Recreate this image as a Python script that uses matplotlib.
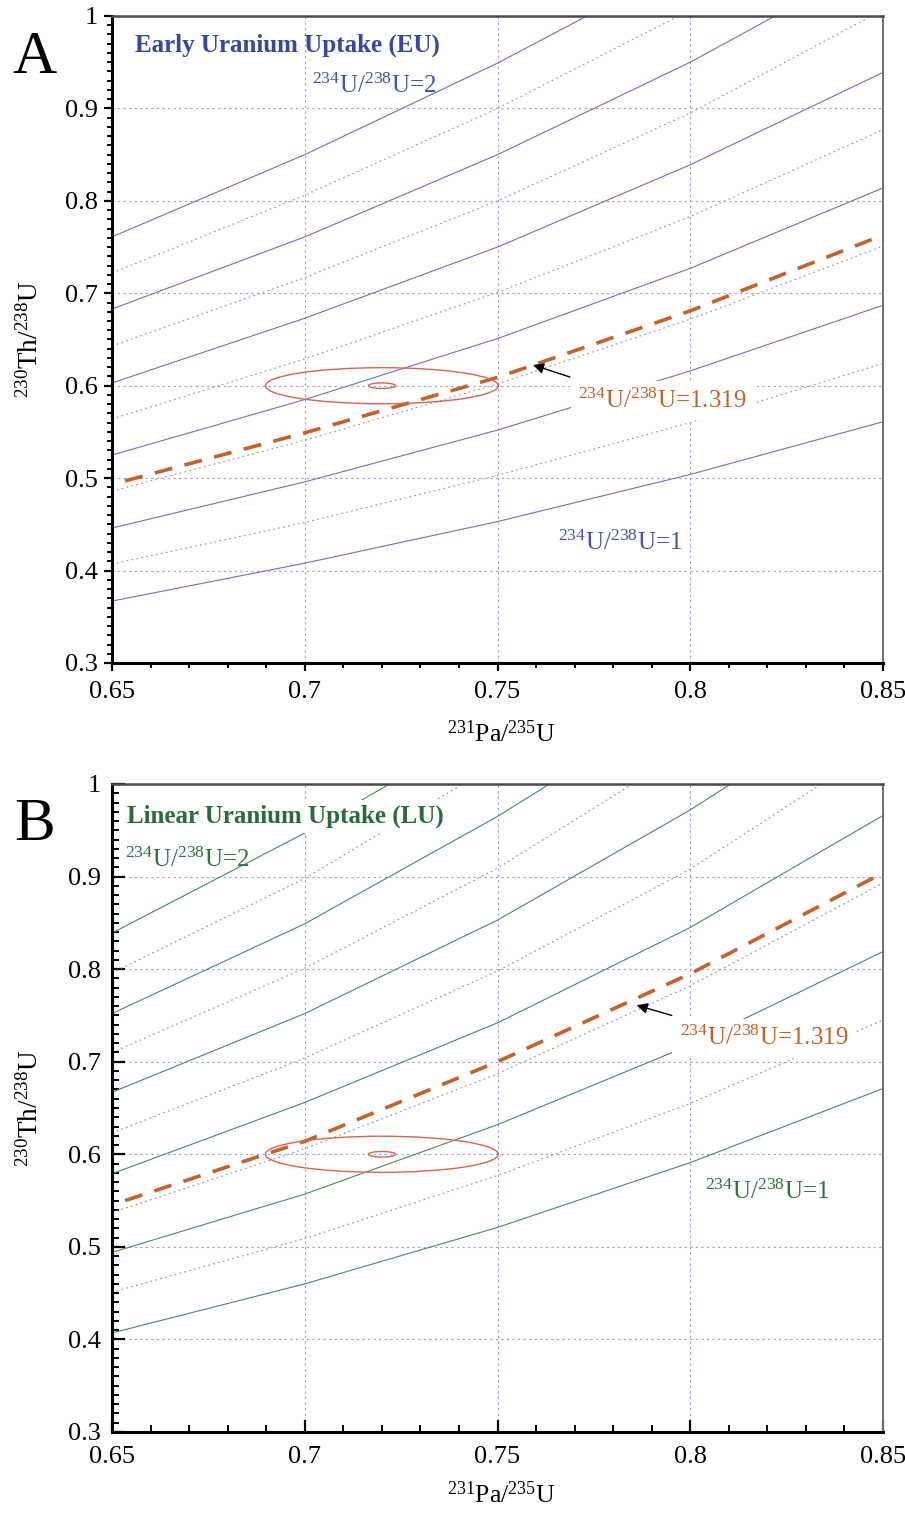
import matplotlib
matplotlib.use('Agg')
import matplotlib.pyplot as plt
from matplotlib.patches import Ellipse
from matplotlib.ticker import FixedLocator, MultipleLocator, FuncFormatter

plt.rcParams['font.family'] = ['Liberation Serif', 'DejaVu Serif']
plt.rcParams['mathtext.fontset'] = 'custom'
plt.rcParams['mathtext.rm'] = 'Liberation Serif'
plt.rcParams['mathtext.it'] = 'Liberation Serif:italic'
plt.rcParams['mathtext.bf'] = 'Liberation Serif:bold'

# values (231Pa/235U on x, 230Th/238U on y)
x_grid = [0.65, 0.70, 0.75, 0.80, 0.85]

# A: early uranium uptake, solid 234U/238U = 2.0 ... 1.0
eu_solid_x = [[0.65, 0.70, 0.75, 0.7732],
              [0.65, 0.70, 0.75, 0.80, 0.822],
              x_grid, x_grid, x_grid, x_grid]
eu_solid_y = [[0.761, 0.850, 0.949, 1.0],
              [0.683, 0.761, 0.850, 0.950, 1.0],
              [0.603, 0.673, 0.750, 0.839, 0.939],
              [0.525, 0.585, 0.651, 0.727, 0.814],
              [0.446, 0.496, 0.552, 0.616, 0.687],
              [0.367, 0.408, 0.453, 0.504, 0.561]]
# dotted 234U/238U = 1.9 ... 1.1
eu_dot_x = [[0.65, 0.70, 0.75, 0.797],
            [0.65, 0.70, 0.75, 0.80, 0.847],
            x_grid, x_grid, x_grid]
eu_dot_y = [[0.722, 0.806, 0.900, 1.0],
            [0.643, 0.717, 0.800, 0.895, 1.0],
            [0.564, 0.629, 0.701, 0.783, 0.877],
            [0.486, 0.541, 0.602, 0.672, 0.751],
            [0.407, 0.452, 0.503, 0.560, 0.624]]
# 234U/238U = 1.319
eu_dash_x = [0.6534, 0.70, 0.75, 0.80, 0.85]
eu_dash_y = [0.497, 0.549, 0.609, 0.681, 0.763]

# B: linear uranium uptake
lu_solid_x = [[0.65, 0.70, 0.722],
              [0.65, 0.70, 0.75, 0.7635],
              [0.65, 0.70, 0.75, 0.80, 0.8105],
              x_grid, x_grid, x_grid]
lu_solid_y = [[0.839, 0.947, 1.0],
              [0.752, 0.849, 0.965, 1.0],
              [0.667, 0.752, 0.853, 0.972, 1.0],
              [0.579, 0.656, 0.742, 0.845, 0.966],
              [0.494, 0.557, 0.632, 0.718, 0.819],
              [0.407, 0.460, 0.521, 0.591, 0.671]]
lu_dot_x = [[0.65, 0.70, 0.741],
            [0.65, 0.70, 0.75, 0.785],
            [0.65, 0.70, 0.75, 0.80, 0.834],
            x_grid, x_grid]
lu_dot_y = [[0.796, 0.898, 1.0],
            [0.710, 0.801, 0.909, 1.0],
            [0.623, 0.704, 0.798, 0.908, 1.0],
            [0.537, 0.606, 0.687, 0.782, 0.893],
            [0.451, 0.509, 0.577, 0.655, 0.745]]
lu_dash_x = [0.6534, 0.70, 0.75, 0.80, 0.85]
lu_dash_y = [0.550, 0.614, 0.700, 0.795, 0.904]

# sample age ellipse
ell_center = (0.72, 0.60)
ell_outer = (0.0302, 0.0195)
ell_inner = (0.0035, 0.003)

x_ticks = [0.65, 0.70, 0.75, 0.80, 0.85]
y_ticks = [0.3, 0.4, 0.5, 0.6, 0.7, 0.8, 0.9, 1.0]

ORANGE = '#c4622c'
RED = '#d9654f'
GRID = '#9c9ce0'


def draw_panel(ax, solid_x, solid_y, dot_x, dot_y, dash_x, dash_y,
               solid_c, dot_c, title_c, title, tick_dir, title_box):
    ax.set_xlim(0.65, 0.85)
    ax.set_ylim(0.3, 1.0)

    for xs, ys in zip(dot_x, dot_y):
        ax.plot(xs, ys, color=dot_c, lw=0.8, ls=(0, (1.5, 3)), zorder=2)
    for xs, ys in zip(solid_x, solid_y):
        ax.plot(xs, ys, color=solid_c, lw=0.8, zorder=2)
    ax.plot(dash_x, dash_y, color=ORANGE, lw=2.6, ls=(0, (5, 3.5)), zorder=3)

    for w, h in (ell_outer, ell_inner):
        ax.add_patch(Ellipse(ell_center, 2 * w, 2 * h, fill=False,
                             ec=RED, lw=1.0, zorder=3))

    # axes, ticks, grid
    ax.xaxis.set_major_locator(FixedLocator(x_ticks))
    ax.yaxis.set_major_locator(FixedLocator(y_ticks))
    ax.xaxis.set_minor_locator(MultipleLocator(0.01))
    ax.yaxis.set_minor_locator(MultipleLocator(0.01))
    fmt = FuncFormatter(lambda v, p: f'{v:g}')
    ax.xaxis.set_major_formatter(fmt)
    ax.yaxis.set_major_formatter(fmt)
    ax.grid(True, which='major', color=GRID, lw=0.8, ls=(0, (2, 3)), zorder=0)
    ax.set_axisbelow(True)

    if tick_dir == 'out':
        ax.tick_params(which='major', direction='out', length=6, width=1.6,
                       labelsize=19, pad=4)
        ax.tick_params(which='minor', direction='out', length=3.5, width=1.4)
        ax.tick_params(axis='x', which='major', pad=7)
    else:
        ax.tick_params(which='major', direction='in', length=9, width=1.6,
                       labelsize=19, pad=8)
        ax.tick_params(which='minor', direction='in', length=5, width=1.4)
        ax.tick_params(axis='x', which='major', pad=10)

    for side in ('left', 'bottom'):
        ax.spines[side].set_linewidth(2.2)
        ax.spines[side].set_color('black')
    ax.spines['top'].set_linewidth(1.8)
    ax.spines['top'].set_color('#4a4a4a')
    ax.spines['right'].set_linewidth(1.4)
    ax.spines['right'].set_color('#707070')

    tb = dict(boxstyle='square,pad=0.2', fc='white', ec='none') if title_box else None
    ax.text(0.6539 if title_box else 0.656, 0.958 if title_box else 0.961,
            title, color=title_c, fontsize=18, fontweight='bold',
            va='baseline', ha='left', bbox=tb, zorder=5)


fig = plt.figure(figsize=(9.05, 15.15), dpi=100)
W, H = 905, 1515
axA = fig.add_axes([112 / W, 1 - 663 / H, 771 / W, 647 / H])
axB = fig.add_axes([112 / W, 1 - 1432 / H, 771 / W, 648 / H])

draw_panel(axA, eu_solid_x, eu_solid_y, eu_dot_x, eu_dot_y, eu_dash_x, eu_dash_y,
           '#6d70cf', '#8e8ec8', '#3646a3',
           'Early Uranium Uptake (EU)', 'out', False)
draw_panel(axB, lu_solid_x, lu_solid_y, lu_dot_x, lu_dot_y, lu_dash_x, lu_dash_y,
           '#4f8a5b', '#8f8f8f', '#2b6b3b',
           'Linear Uranium Uptake (LU)', 'in', True)

lab_box = dict(boxstyle='square,pad=0.3', fc='white', ec='none')

# panel A annotations
axA.text(0.7019, 0.9167, r'$^{234}$U/$^{238}$U=2', color='#4552b4',
         fontsize=18, va='baseline')
axA.text(0.7657, 0.4223, r'$^{234}$U/$^{238}$U=1', color='#4552b4',
         fontsize=18, va='baseline')
axA.text(0.7709, 0.5759, r'$^{234}$U/$^{238}$U=1.319', color=ORANGE,
         fontsize=18, va='baseline', bbox=lab_box, zorder=5)
axA.annotate('', xy=(0.7592, 0.6224), xytext=(0.7688, 0.6094),
             arrowprops=dict(arrowstyle='-|>', color='black', lw=1.0,
                             mutation_scale=16, shrinkA=0, shrinkB=0), zorder=6)

# panel B annotations
axB.text(0.6534, 0.9102, r'$^{234}$U/$^{238}$U=2', color='#2f7242',
         fontsize=18, va='baseline')
axB.text(0.8038, 0.5521, r'$^{234}$U/$^{238}$U=1', color='#2f7242',
         fontsize=18, va='baseline')
axB.text(0.7973, 0.7176, r'$^{234}$U/$^{238}$U=1.319', color=ORANGE,
         fontsize=18, va='baseline', bbox=lab_box, zorder=5)
axB.annotate('', xy=(0.7861, 0.761), xytext=(0.7952, 0.750),
             arrowprops=dict(arrowstyle='-|>', color='black', lw=1.0,
                             mutation_scale=16, shrinkA=0, shrinkB=0), zorder=6)

for ax, yb in ((axA, -0.122), (axB, -0.1096)):
    ax.text(0.5045, yb, r'$^{231}$Pa/$^{235}$U', transform=ax.transAxes,
            fontsize=18.5, ha='center', va='baseline')
    ax.text(-0.106, 0.5, r'$^{230}$Th/$^{238}$U', transform=ax.transAxes,
            fontsize=19.5, ha='center', va='center', rotation=90)

fig.text(12 / W, 1 - 73 / H, 'A', fontsize=44, va='baseline', ha='left')
fig.text(14 / W, 1 - 840 / H, 'B', fontsize=44, va='baseline', ha='left')

fig.savefig('out.png', dpi=100)
